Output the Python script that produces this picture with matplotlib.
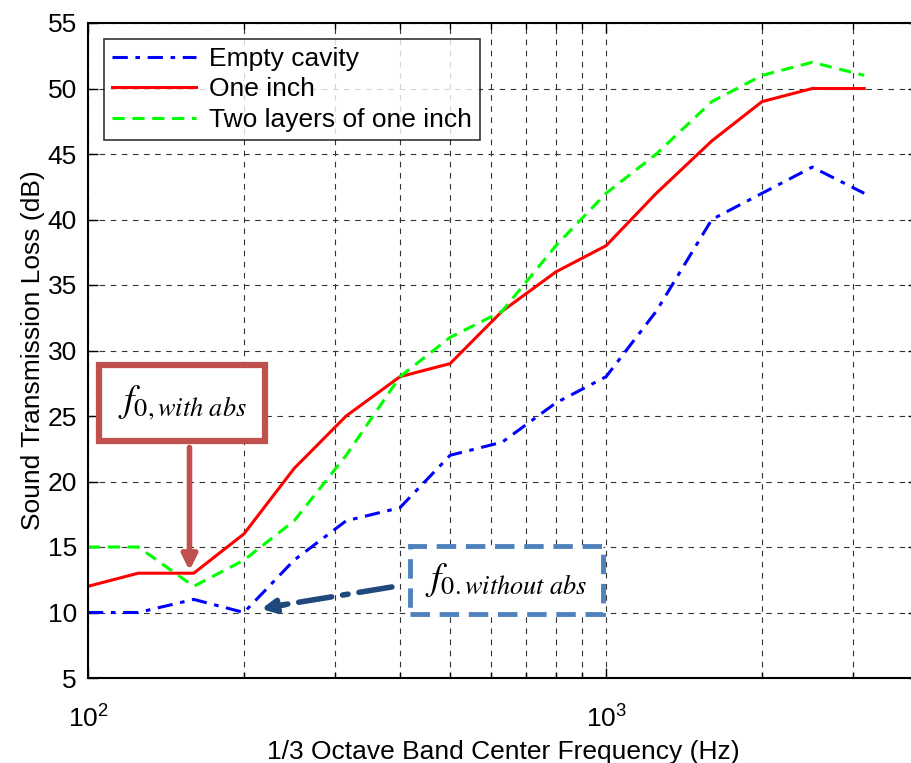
import numpy as np
import matplotlib
matplotlib.use('Agg')
import matplotlib.pyplot as plt
from matplotlib.ticker import LogLocator, NullFormatter, MultipleLocator

# donnees (bandes de tiers d'octave)
freq = [100, 125, 160, 200, 250, 315, 400, 500, 630, 800, 1000, 1250, 1600, 2000, 2500, 3150]
empty_cavity = [10, 10, 11, 10, 14, 17, 18, 22, 23, 26, 28, 33, 40, 42, 44, 42]
one_inch = [12, 13, 13, 16, 21, 25, 28, 29, 33, 36, 38, 42, 46, 49, 50, 50]
two_layers = [15, 15, 12, 14, 17, 22, 28, 31, 33, 38, 42, 45, 49, 51, 52, 51]

plt.rcParams['font.family'] = ['Liberation Sans', 'DejaVu Sans']
plt.rcParams['mathtext.fontset'] = 'stix'
fs = 19

fig = plt.figure(figsize=(9.11, 7.63), dpi=100)
W, H = 911, 763
ax = fig.add_axes([88 / W, 1 - 678 / H, (918 - 88) / W, (678 - 23) / H])

ax.plot(freq, empty_cavity, color='b', linestyle='-.', lw=2.2, label='Empty cavity',
        dashes=(5, 2.5, 1.5, 2.5))
ax.plot(freq, one_inch, color='r', linestyle='-', lw=2.2, label='One inch')
ax.plot(freq, two_layers, color='#00ff00', linestyle='--', lw=2.2, label='Two layers of one inch',
        dashes=(4, 2.5))

ax.set_xscale('log')
ax.set_xlim(100, 4000)
ax.set_ylim(5, 55)
ax.yaxis.set_major_locator(MultipleLocator(5))
ax.xaxis.set_major_locator(LogLocator(base=10))
ax.xaxis.set_minor_locator(LogLocator(base=10, subs=np.arange(2, 10)))
ax.xaxis.set_minor_formatter(NullFormatter())

ax.grid(True, which='both', axis='x', color='#333333', linestyle=(0, (5, 5)), lw=0.8)
ax.grid(True, which='major', axis='y', color='#333333', linestyle=(0, (5, 5)), lw=0.8)

ax.tick_params(which='both', direction='in', top=True, right=True, labelsize=fs, width=1)
ax.tick_params(which='major', length=7)
ax.tick_params(axis='y', pad=8)
ax.tick_params(axis='x', pad=20)
ax.tick_params(which='minor', length=4)
for s in ax.spines.values():
    s.set_linewidth(1.5)

ax.set_xlabel('1/3 Octave Band Center Frequency (Hz)', fontsize=fs, labelpad=5)
ax.set_ylabel('Sound Transmission Loss (dB)', fontsize=fs, labelpad=2)

leg = ax.legend(loc='upper left', fontsize=fs, frameon=True, fancybox=False,
                edgecolor='black', handlelength=3.2, borderaxespad=0.6,
                labelspacing=0.25, handletextpad=0.5, borderpad=0.3)
leg.get_frame().set_linewidth(1.2)

# annotations f0
ax.text(152, 26.0, r'$f_{0,\mathit{with\ abs}}$', fontsize=27, ha='center', va='center',
        bbox=dict(boxstyle='square,pad=0.5', fc='white', ec='#C0504D', lw=4.5))
ax.annotate('', xy=(157, 13.2), xytext=(157, 22.6),
            arrowprops=dict(arrowstyle='-|>,head_width=0.45,head_length=0.9',
                            color='#C0504D', lw=4, shrinkA=0, shrinkB=0))

ax.text(642, 12.45, r'$f_{0.\mathit{without\ abs}}$', fontsize=27, ha='center', va='center',
        bbox=dict(boxstyle='square,pad=0.4', fc='white', ec='#4F81BD', lw=3.5,
                  linestyle=(0, (4, 2))))
ax.annotate('', xy=(235, 10.55), xytext=(386, 11.95),
            arrowprops=dict(arrowstyle='-', color='#1F497D', lw=4,
                            linestyle=(0, (6, 2, 1, 2)), shrinkA=0, shrinkB=0))
ax.annotate('', xy=(216, 10.27), xytext=(240, 10.6),
            arrowprops=dict(arrowstyle='-|>,head_width=0.4,head_length=0.8',
                            color='#1F497D', lw=4, shrinkA=0, shrinkB=0))

fig.savefig('out.png', dpi=100)
